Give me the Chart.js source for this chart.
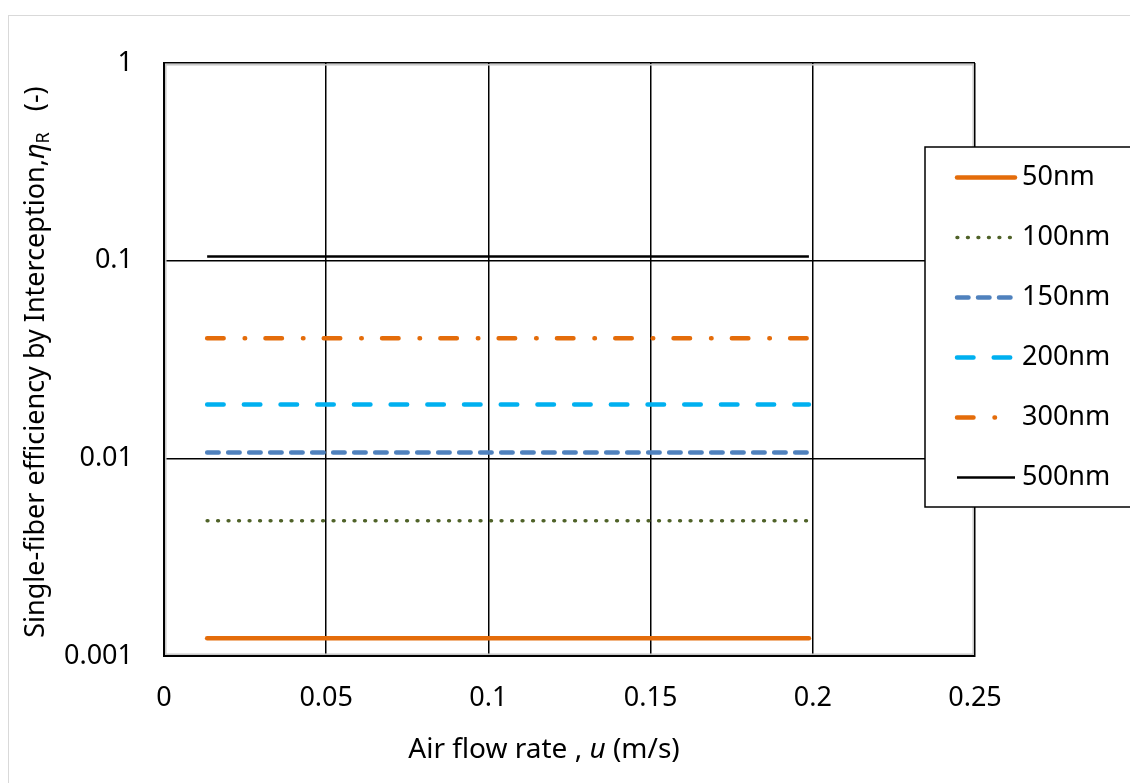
<!DOCTYPE html>
<html>
<head>
<meta charset="utf-8">
<script src="https://cdn.jsdelivr.net/npm/chart.js@4"></script>
<style>
  html, body { margin: 0; padding: 0; background: #fff; overflow: hidden; }
  #wrap { position: relative; width: 1130px; height: 783px; }
  #frame { position: absolute; left: 8px; top: 15px; width: 1200px; height: 900px; border: 1px solid #d9d9d9; }
  #chart { position: absolute; left: 0; top: 0; }
</style>
</head>
<body>
<div id="wrap">
  <div id="frame"></div>
  <canvas id="chart" width="1130" height="783"></canvas>
</div>
<script>
// ── Data ────────────────────────────────────────────────────────────────
const particleSizes = ["50nm", "100nm", "150nm", "200nm", "300nm", "500nm"];
const flowRates = [0.0133, 0.1988];           // air flow rate u (m/s)
const eta50  = [0.00123, 0.00123];
const eta100 = [0.00484, 0.00484];
const eta150 = [0.0107, 0.0107];
const eta200 = [0.0187, 0.0187];
const eta300 = [0.0405, 0.0405];
const eta500 = [0.105, 0.105];
const xTicks = [0, 0.05, 0.1, 0.15, 0.2, 0.25];
const yTicks = [0.001, 0.01, 0.1, 1];

const FONT = "'Noto Sans', 'Open Sans', sans-serif";
Chart.defaults.font.family = FONT;
Chart.defaults.font.size = 27;
Chart.defaults.color = "#000";

const ORANGE = "#E46C0A";

function pts(values) {
  return flowRates.map((x, i) => ({ x, y: values[i] }));
}

const datasets = [
  { label: particleSizes[0], data: pts(eta50),  borderColor: ORANGE,    borderWidth: 4.5, borderCapStyle: "round", borderDash: [] },
  { label: particleSizes[1], data: pts(eta100), borderColor: "#4F6228", borderWidth: 3.5, borderCapStyle: "round", borderDash: [0.8, 9.7] },
  { label: particleSizes[2], data: pts(eta150), borderColor: "#4F81BD", borderWidth: 4.5, borderCapStyle: "round", borderDash: [11.5, 9.5] },
  { label: particleSizes[3], data: pts(eta200), borderColor: "#00B0F0", borderWidth: 4.5, borderCapStyle: "round", borderDash: [16.5, 20.2] },
  { label: particleSizes[4], data: pts(eta300), borderColor: ORANGE,    borderWidth: 4.5, borderCapStyle: "round", borderDash: [16.5, 21, 0.5, 20.3] },
  { label: particleSizes[5], data: pts(eta500), borderColor: "#000",    borderWidth: 2.5, borderCapStyle: "butt",  borderDash: [] },
];

// ── Plugins: plot shading, axis titles, legend ───────────────────────────
const innerEdge = {
  id: "innerEdge",
  beforeDatasetsDraw(chart) {
    const { ctx, chartArea: a } = chart;
    ctx.save();
    ctx.strokeStyle = "#c8c8c8";
    ctx.lineWidth = 1.5;
    ctx.strokeRect(a.left + 1.8, a.top + 1.8, a.right - a.left - 3.6, a.bottom - a.top - 3.6);
    ctx.restore();
  },
};

function drawRich(ctx, parts, cx, baseline) {
  let total = 0;
  parts.forEach((p) => { ctx.font = p.font; total += ctx.measureText(p.text).width; });
  let x = cx - total / 2;
  parts.forEach((p) => {
    ctx.font = p.font;
    ctx.fillText(p.text, x, baseline + (p.dy || 0));
    x += ctx.measureText(p.text).width;
  });
}

const axisTitles = {
  id: "axisTitles",
  afterDraw(chart) {
    const { ctx } = chart;
    ctx.save();
    ctx.fillStyle = "#000";
    ctx.textBaseline = "alphabetic";
    ctx.textAlign = "left";
    drawRich(ctx, [
      { text: "Air flow rate , ", font: `28px ${FONT}` },
      { text: "u", font: `italic 28px ${FONT}` },
      { text: " (m/s)", font: `28px ${FONT}` },
    ], 544, 758);

    ctx.translate(44, 362);
    ctx.rotate(-Math.PI / 2);
    drawRich(ctx, [
      { text: "Single-fiber efficiency by Interception,", font: `27px ${FONT}` },
      { text: "η", font: `italic 27px ${FONT}` },
      { text: "R", font: `18px ${FONT}`, dy: 5 },
      { text: "   (-)", font: `27px ${FONT}` },
    ], 0, 0);
    ctx.restore();
  },
};

const boxLegend = {
  id: "boxLegend",
  afterDraw(chart) {
    const { ctx } = chart;
    ctx.save();
    ctx.fillStyle = "#fff";
    ctx.fillRect(925, 147, 260, 360);
    ctx.strokeStyle = "#000";
    ctx.lineWidth = 1.5;
    ctx.strokeRect(925, 147, 260, 360);
    chart.data.datasets.forEach((ds, i) => {
      const y = 177.5 + i * 60;
      ctx.beginPath();
      ctx.strokeStyle = ds.borderColor;
      ctx.lineWidth = ds.borderWidth;
      ctx.lineCap = ds.borderCapStyle;
      ctx.setLineDash(ds.borderDash);
      ctx.moveTo(957, y);
      ctx.lineTo(1015, y);
      ctx.stroke();
      ctx.setLineDash([]);
      ctx.fillStyle = "#000";
      ctx.font = `27px ${FONT}`;
      ctx.textBaseline = "middle";
      ctx.fillText(ds.label, 1022, y);
    });
    ctx.restore();
  },
};

// ── Chart ───────────────────────────────────────────────────────────────
new Chart(document.getElementById("chart"), {
  type: "line",
  data: { datasets },
  options: {
    responsive: false,
    animation: false,
    layout: { padding: { left: 0, top: 63, right: 155, bottom: 0 } },
    elements: { point: { radius: 0 }, line: { tension: 0 } },
    plugins: { legend: { display: false }, tooltip: { enabled: false } },
    scales: {
      x: {
        type: "linear",
        min: 0,
        max: 0.25,
        afterFit: (s) => { s.height = 783 - 656; },
        afterBuildTicks: (s) => { s.ticks = xTicks.map((v) => ({ value: v })); },
        ticks: { padding: 26, maxRotation: 0, callback: (v) => String(+Number(v).toFixed(2)) },
        grid: { color: "#000", lineWidth: 1.5, drawTicks: false },
        border: { color: "#000", width: 2 },
      },
      y: {
        type: "logarithmic",
        min: 0.001,
        max: 1,
        afterFit: (s) => { s.width = 164; },
        afterBuildTicks: (s) => { s.ticks = yTicks.map((v) => ({ value: v })); },
        ticks: { padding: 31, callback: (v) => String(v) },
        grid: { color: "#000", lineWidth: 1.5, drawTicks: false },
        border: { color: "#000", width: 2 },
      },
    },
  },
  plugins: [innerEdge, axisTitles, boxLegend],
});
</script>
</body>
</html>
